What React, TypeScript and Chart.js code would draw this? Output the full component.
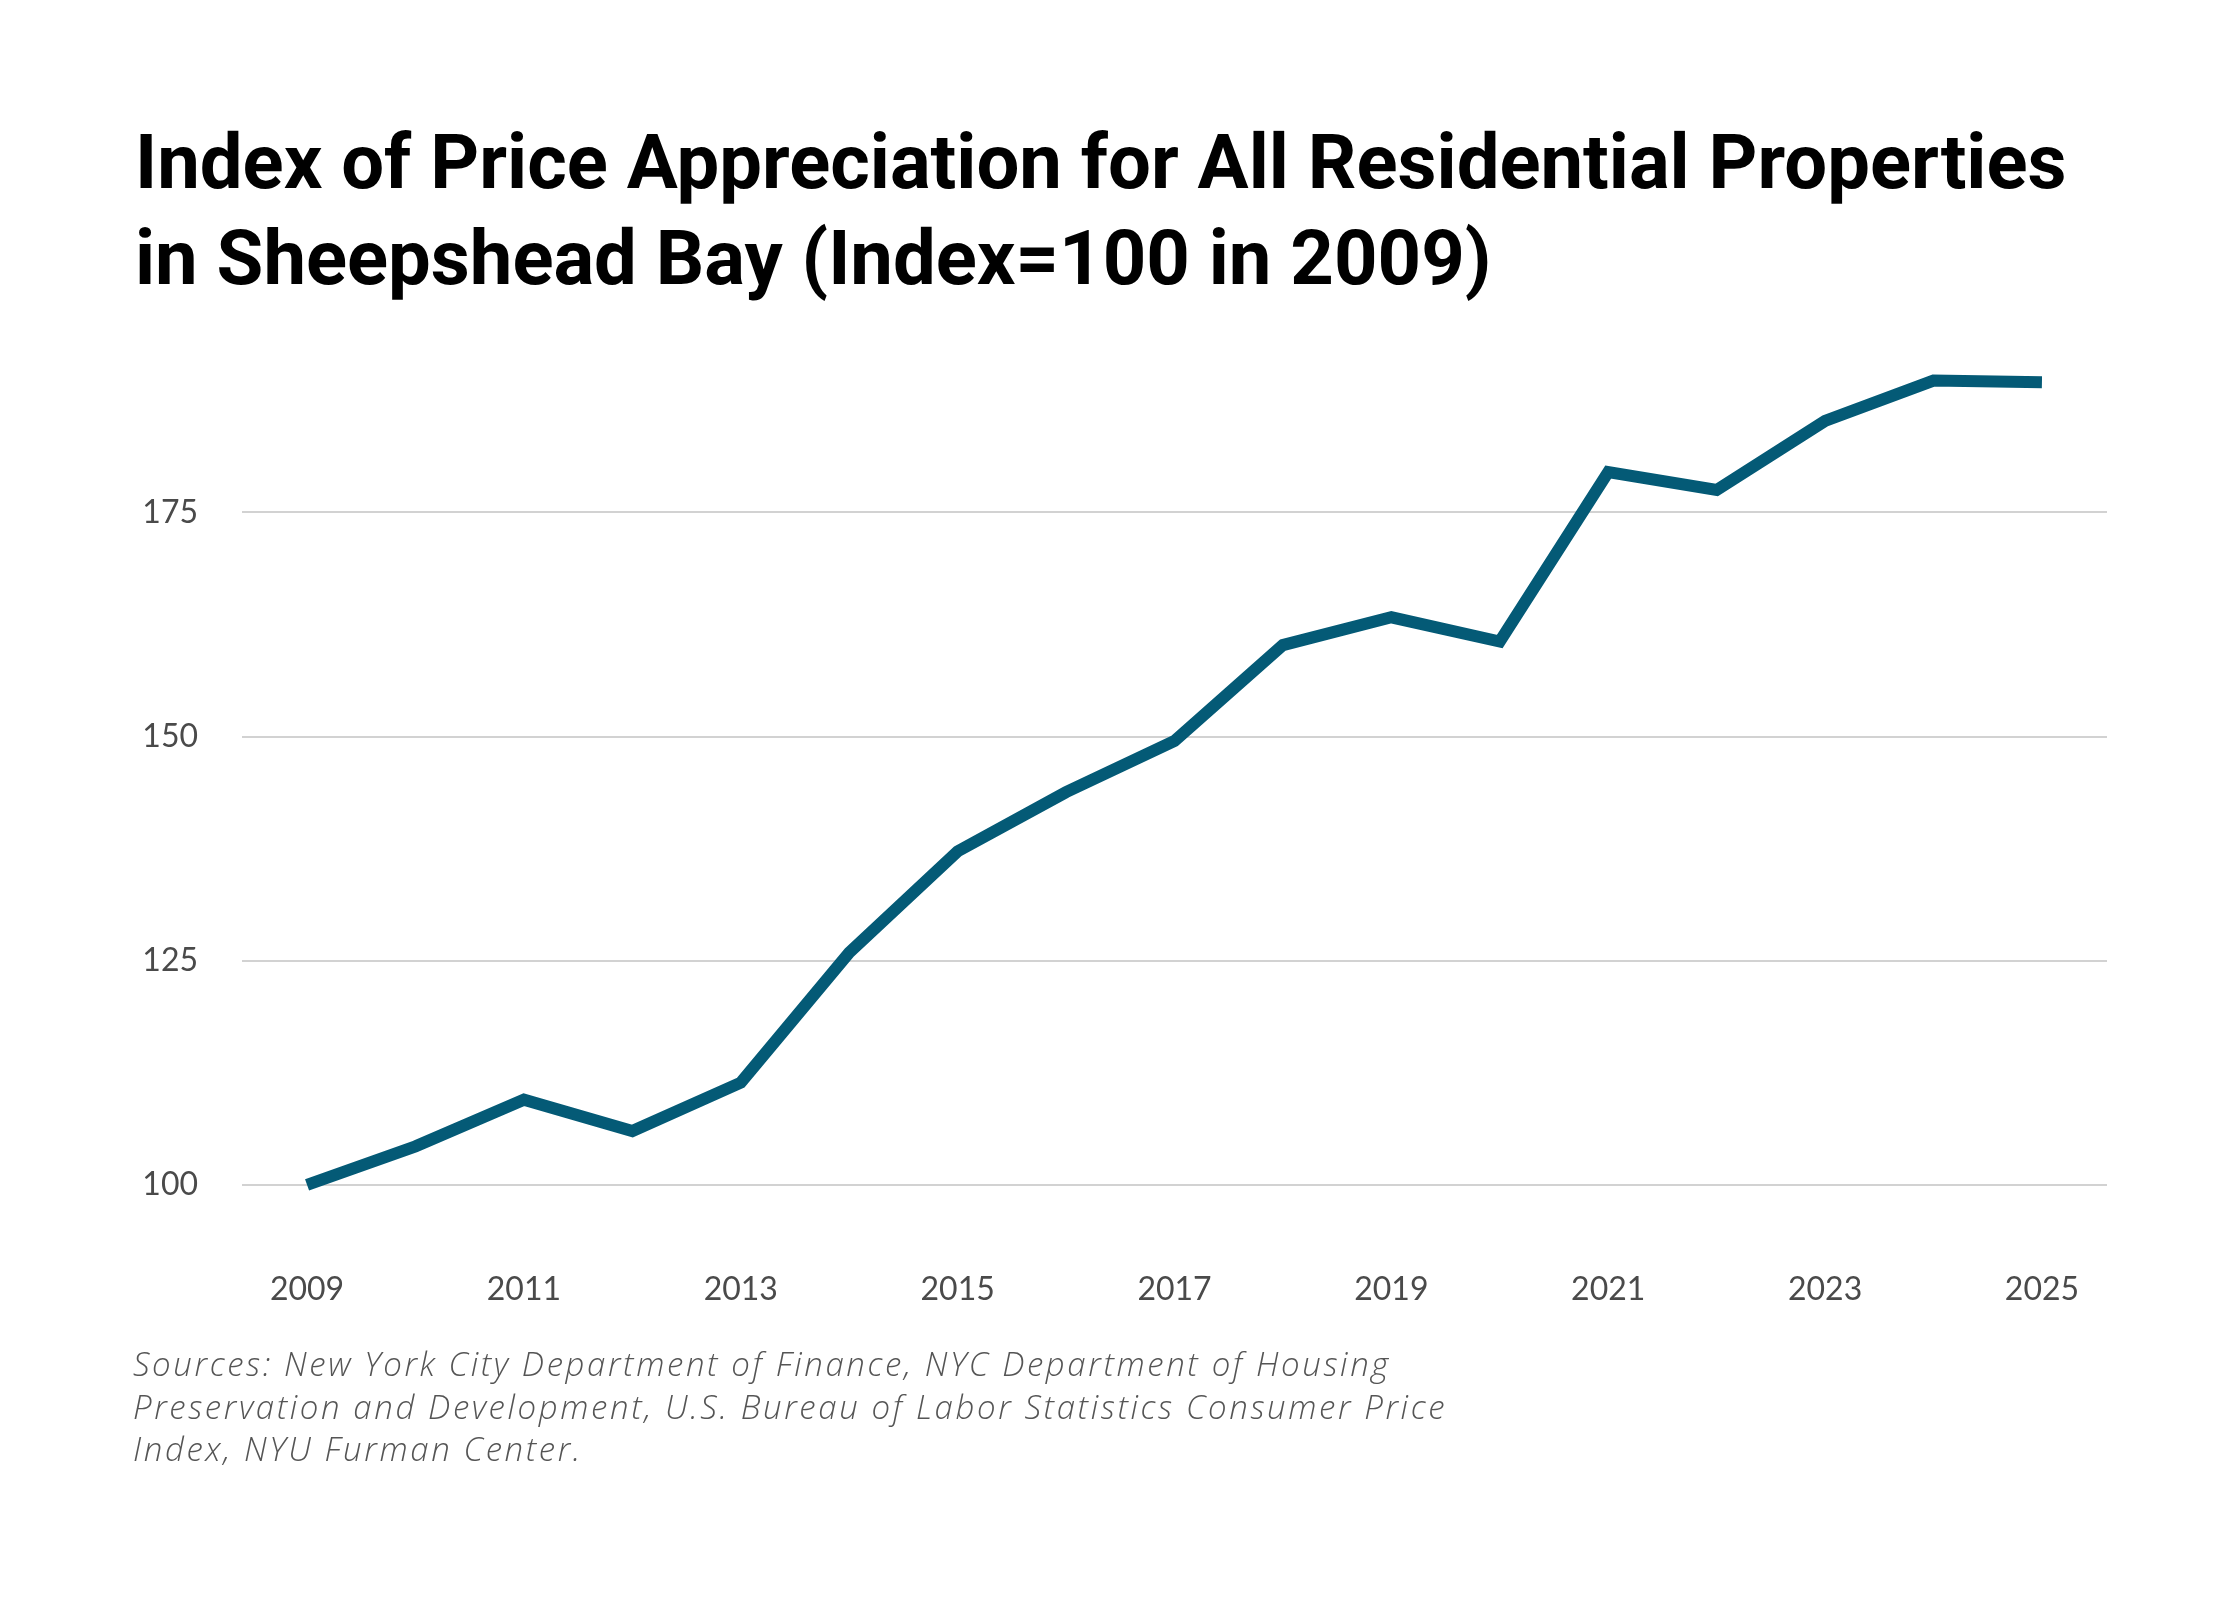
import { useEffect, useRef } from "react";
import { Chart, registerables } from "chart.js";

Chart.register(...registerables);

const years = [2009, 2010, 2011, 2012, 2013, 2014, 2015, 2016, 2017, 2018, 2019, 2020, 2021, 2022, 2023, 2024, 2025];
const indexValues = [100.0, 104.3, 109.5, 106.0, 111.4, 125.9, 137.2, 143.8, 149.5, 160.2, 163.3, 160.6, 179.5, 177.5, 185.2, 189.7, 189.5];
const xTickYears = [2009, 2011, 2013, 2015, 2017, 2019, 2021, 2023, 2025];
const yTickValues = [100, 125, 150, 175];

const titleLines = [
  "Index of Price Appreciation for All Residential Properties",
  "in Sheepshead Bay (Index=100 in 2009)",
];
const sourceLines = [
  "Sources: New York City Department of Finance, NYC Department of Housing",
  "Preservation and Development, U.S. Bureau of Labor Statistics Consumer Price",
  "Index, NYU Furman Center.",
];

const W = 2240;
const H = 1600;

export default function App() {
  const chartRef = useRef<HTMLCanvasElement | null>(null);

  useEffect(() => {
    const canvas = chartRef.current;
    if (!canvas) return;
    const ctx = canvas.getContext("2d");
    if (!ctx) return;

    const myChart = new Chart(ctx, {
      type: "line",
      data: {
        datasets: [
          {
            label: "Index",
            data: years.map((y, i) => ({ x: y, y: indexValues[i] })),
            borderColor: "#045a76",
            borderWidth: 12,
            borderCapStyle: "butt",
            borderJoinStyle: "miter",
            pointRadius: 0,
            tension: 0,
            fill: false,
          },
        ],
      },
      options: {
        responsive: false,
        animation: false,
        devicePixelRatio: 1,
        layout: {
          padding: { left: 135, right: 133, top: 121, bottom: 277 },
        },
        plugins: {
          legend: { display: false },
          tooltip: { enabled: false },
          title: {
            display: true,
            text: titleLines,
            align: "start",
            color: "#000000",
            font: {
              family: "Roboto, 'Noto Sans', sans-serif",
              size: 76,
              weight: "bold",
              lineHeight: 96 / 76,
            },
            padding: { top: 0, bottom: 29 },
          },
        },
        scales: {
          x: {
            type: "linear",
            min: 2008.4,
            max: 2025.6,
            afterBuildTicks: (axis) => {
              axis.ticks = xTickYears.map((v) => ({ value: v }));
            },
            grid: { display: false, drawTicks: false, tickLength: 0 },
            border: { display: false },
            ticks: {
              color: "#4a4a4a",
              padding: 14,
              maxRotation: 0,
              font: { family: "Lato, sans-serif", size: 32 },
              callback: (v) => String(v),
            },
          },
          y: {
            min: 92,
            max: 194,
            afterBuildTicks: (axis) => {
              axis.ticks = yTickValues.map((v) => ({ value: v }));
            },
            afterFit: (axis) => {
              axis.width = 107;
            },
            grid: { color: "#d2d2d2", lineWidth: 2, drawTicks: false, tickLength: 0 },
            border: { display: false },
            ticks: {
              color: "#4a4a4a",
              padding: 44,
              font: { family: "Lato, sans-serif", size: 32 },
              callback: (v) => String(v),
            },
          },
        },
      },
    });

    return () => {
      myChart.destroy();
    };
  }, []);

  return (
    <div style={{ position: "absolute", left: 0, top: 0, width: W, height: H, background: "#ffffff" }}>
      <canvas ref={chartRef} width={W} height={H} style={{ width: W + "px", height: H + "px", display: "block" }}></canvas>
      <div
        style={{
          position: "absolute",
          left: 133,
          top: 1343,
          fontFamily: "'Open Sans', Lato, sans-serif",
          fontStyle: "italic",
          fontWeight: 300,
          fontSize: 33,
          lineHeight: "42.5px",
          letterSpacing: "2.6px",
          color: "#555555",
          whiteSpace: "nowrap",
        }}
      >
        {sourceLines.map((line) => (
          <div key={line}>{line}</div>
        ))}
      </div>
    </div>
  );
}
